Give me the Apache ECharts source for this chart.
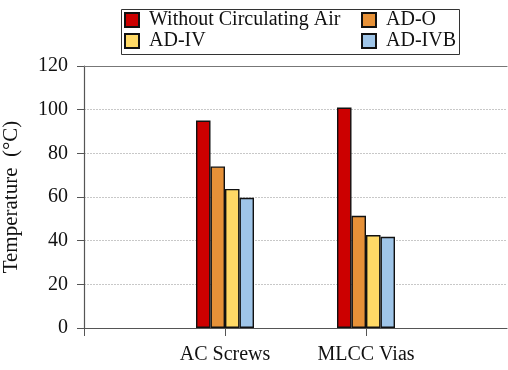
<!DOCTYPE html>
<html>
<head>
<meta charset="utf-8">
<script src="https://cdn.jsdelivr.net/npm/echarts@6/dist/echarts.min.js"></script>
<style>
  html, body { margin: 0; padding: 0; background: #fff; }
  #chart { width: 508px; height: 370px; }
</style>
</head>
<body>
<div id="chart"></div>
<script>
// Category slots: blank slots at both ends keep the groups at 1/3 and 2/3 of the axis
const categories = ['', 'AC Screws', 'MLCC Vias', ' '];
const seriesNames = ['Without Circulating Air', 'AD-O', 'AD-IV', 'AD-IVB'];
const withoutAir = [null, 95, 101, null];
const adO = [null, 74, 51.4, null];
const adIV = [null, 63.7, 42.6, null];
const adIVB = [null, 59.6, 41.8, null];
const yTicks = [0, 20, 40, 60, 80, 100, 120];
const colors = ['#cc0000', '#e69138', '#ffd966', '#9fc5e8'];

const FONT = '"Liberation Serif", "Times New Roman", serif';
const values = [withoutAir, adO, adIV, adIVB];

const chart = echarts.init(document.getElementById('chart'), null, { renderer: 'canvas' });

const legendBase = {
  orient: 'vertical',
  top: 10,
  padding: 0,
  itemWidth: 14, itemHeight: 14, itemGap: 1,
  icon: 'rect',
  z: 5,
  textStyle: { fontFamily: FONT, fontSize: 20, color: '#111', lineHeight: 20, padding: [0, 0, 0, 5] }
};

chart.setOption({
  animation: false,
  backgroundColor: '#fff',
  textStyle: { fontFamily: FONT },
  grid: { left: 84, right: 1, top: 66, bottom: 42, outerBoundsMode: 'none', containLabel: false },
  graphic: [{
    type: 'rect',
    z: 0,
    shape: { x: 121.5, y: 9.5, width: 338, height: 45 },
    style: { fill: '#fff', stroke: '#333', lineWidth: 1 }
  }],
  legend: [
    Object.assign({}, legendBase, { data: [seriesNames[0], seriesNames[2]], left: 124 }),
    Object.assign({}, legendBase, { data: [seriesNames[1], seriesNames[3]], left: 361 })
  ],
  xAxis: [
    {
      type: 'category',
      data: categories,
      boundaryGap: false,
      axisLine: { lineStyle: { color: '#555', width: 1.2 } },
      axisTick: {
        show: true, length: 8, lineStyle: { color: '#555' },
        interval: (idx) => idx < categories.length - 1
      },
      axisLabel: { fontFamily: FONT, fontSize: 20, color: '#111', margin: 17 },
      splitLine: { show: false }
    },
    {
      type: 'category',
      position: 'top',
      data: categories,
      boundaryGap: false,
      axisLine: { show: true, lineStyle: { color: '#777', width: 1.2 } },
      axisTick: { show: false },
      axisLabel: { show: false }
    }
  ],
  yAxis: {
    type: 'value',
    min: yTicks[0],
    max: yTicks[yTicks.length - 1],
    interval: 20,
    name: 'Temperature  (°C)',
    nameLocation: 'middle',
    nameGap: 62,
    nameTextStyle: { fontFamily: FONT, fontSize: 21, color: '#111' },
    axisLine: { show: true, lineStyle: { color: '#555', width: 1.2 } },
    axisTick: { show: true, length: 7, lineStyle: { color: '#555' } },
    axisLabel: { fontFamily: FONT, fontSize: 20, color: '#111', margin: 16 },
    splitLine: { show: true, lineStyle: { color: '#c8c8c8', type: [2, 1], width: 1 } }
  },
  series: seriesNames.map((name, i) => ({
    name: name,
    type: 'bar',
    data: values[i],
    barWidth: 14.5,
    barGap: '0%',
    itemStyle: { color: colors[i], borderColor: '#111', borderWidth: 1.4 }
  }))
});
</script>
</body>
</html>
